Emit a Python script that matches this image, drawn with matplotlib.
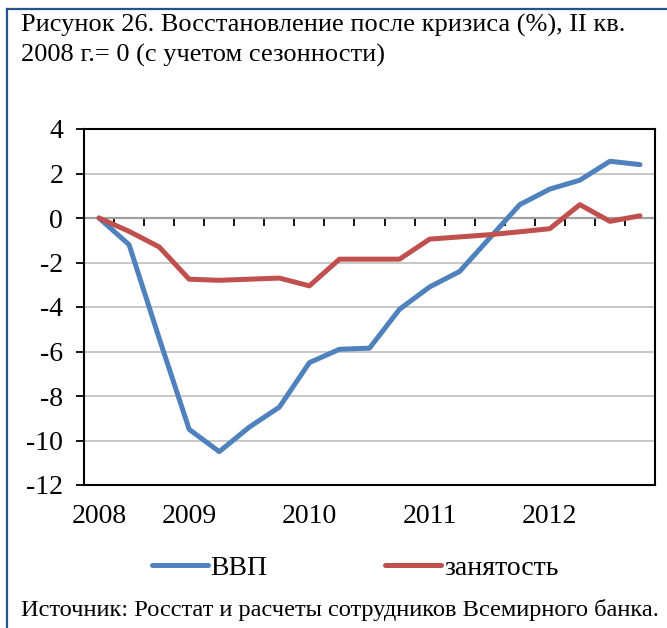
import matplotlib
matplotlib.use('Agg')
import matplotlib.pyplot as plt
import numpy as np
from matplotlib.lines import Line2D

# Квартальные данные: II кв. 2008 - IV кв. 2012
quarters = ["2008Q2", "2008Q3", "2008Q4",
            "2009Q1", "2009Q2", "2009Q3", "2009Q4",
            "2010Q1", "2010Q2", "2010Q3", "2010Q4",
            "2011Q1", "2011Q2", "2011Q3", "2011Q4",
            "2012Q1", "2012Q2", "2012Q3", "2012Q4"]
vvp = [0.0, -1.2, -5.4, -9.5, -10.5, -9.4, -8.5, -6.5, -5.9, -5.85,
       -4.1, -3.1, -2.4, -0.9, 0.6, 1.3, 1.7, 2.55, 2.4]
zanyatost = [0.0, -0.6, -1.3, -2.75, -2.8, -2.75, -2.7, -3.05, -1.85, -1.85,
             -1.85, -0.95, -0.85, -0.75, -0.62, -0.48, 0.6, -0.15, 0.1]
year_labels = {"2008Q2": "2008", "2009Q1": "2009", "2010Q1": "2010",
               "2011Q1": "2011", "2012Q1": "2012"}
y_ticks = [4, 2, 0, -2, -4, -6, -8, -10, -12]

blue = "#4F81BD"
red = "#C0504D"
frame_color = "#24528F"

plt.rcParams['font.family'] = ['Liberation Serif', 'DejaVu Serif']

fig = plt.figure(figsize=(6.67, 6.28), dpi=100)
W, H = 667, 628

# рамка слева и сверху
fig.add_artist(Line2D([7 / W, 7 / W], [0, 1 - 9 / H], color=frame_color, lw=1.6))
fig.add_artist(Line2D([7 / W, 1], [1 - 9 / H, 1 - 9 / H], color=frame_color, lw=1.6))

fig.text(21 / W, 1 - 32 / H, "Рисунок 26. Восстановление после кризиса (%), II кв.",
         fontsize=19, va='baseline', ha='left')
fig.text(21 / W, 1 - 62 / H, "2008 г.= 0 (с учетом сезонности)",
         fontsize=19, va='baseline', ha='left')

ax = fig.add_axes([84 / W, 1 - 485 / H, (655 - 84) / W, (485 - 129) / H])
x = np.arange(len(quarters))

ax.set_ylim(-12, 4)
ax.set_xlim(-0.5, len(quarters) - 0.5)
ax.set_yticks(y_ticks)
ax.set_yticklabels([str(v) for v in y_ticks])
ax.yaxis.grid(True, color="#BFBFBF", lw=1.2)
ax.set_axisbelow(True)

ax.set_xticks(x)
ax.set_xticklabels([year_labels.get(q, "") for q in quarters])
ax.tick_params(axis='x', length=0, pad=14, labelsize=20)
ax.tick_params(axis='y', length=6, width=1.3, pad=9, labelsize=20, direction='out')

for s in ax.spines.values():
    s.set_linewidth(1.5)

# ось категорий проходит через ноль
zero_axis = ax.secondary_xaxis(0.75)
zero_axis.set_alignment('bottom')
zero_axis.set_xticks(np.arange(len(quarters) + 1) - 0.5)
zero_axis.tick_params(length=6, width=1.3, labelbottom=False, direction='out')
zero_axis.spines['bottom'].set_linewidth(1.5)

ax.plot(x, vvp, color=blue, lw=3.6, solid_joinstyle='round', solid_capstyle='round', label="ВВП")
ax.plot(x, zanyatost, color=red, lw=3.6, solid_joinstyle='round', solid_capstyle='round', label="занятость")

fig.legend(loc='center left', bbox_to_anchor=(152 / W, 1 - 568 / H), ncol=2, frameon=False,
           fontsize=20, borderpad=0, borderaxespad=0, handlelength=2.0,
           handletextpad=0.1, columnspacing=4.25)

fig.text(21 / W, 1 - 616 / H, "Источник: Росстат и расчеты сотрудников Всемирного банка.",
         fontsize=17.6, va='baseline', ha='left')

plt.savefig("out.png", dpi=100)
plt.close()
